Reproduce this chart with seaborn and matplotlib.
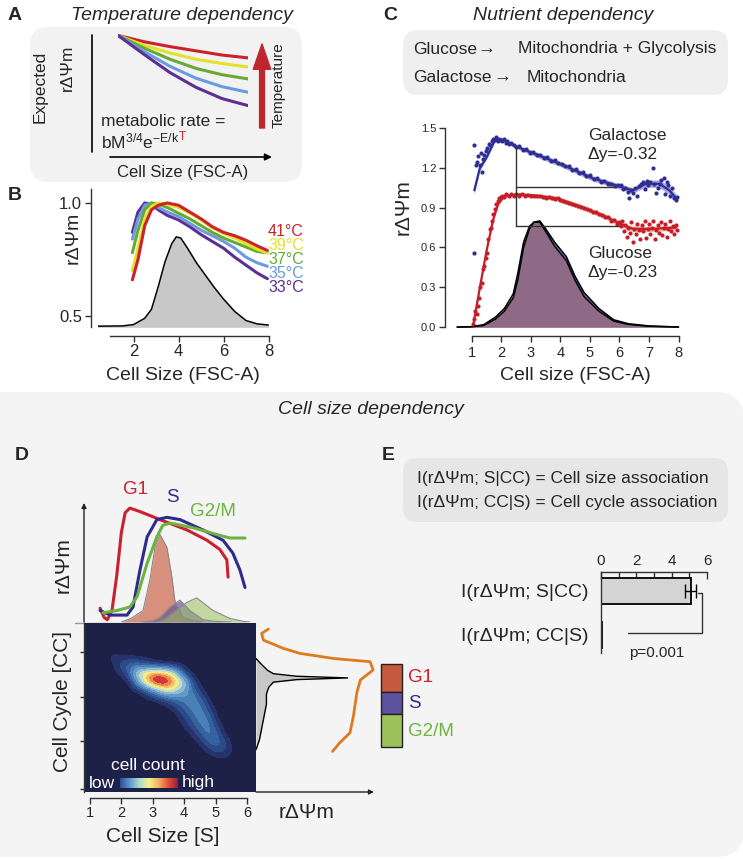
import matplotlib
matplotlib.use("Agg")
import matplotlib.pyplot as plt
from matplotlib.patches import FancyBboxPatch, Rectangle
from matplotlib.colors import ListedColormap, BoundaryNorm, LinearSegmentedColormap
import numpy as np
import seaborn as sns

sns.set_theme(style="white")
plt.rcParams["font.family"] = ["Liberation Sans", "DejaVu Sans"]
plt.rcParams["mathtext.fontset"] = "custom"
plt.rcParams["mathtext.rm"] = "Liberation Sans"
plt.rcParams["mathtext.it"] = "Liberation Sans:italic"

W, H = 743, 859

# ---------------- data ----------------
# A: schematic expected rDeltaPsi vs size, one curve per temperature
a_x = [0, 0.2, 0.4, 0.6, 0.8, 1.0]
a_curves = [
    [1.0, 0.91, 0.84, 0.78, 0.72, 0.68],   # hottest
    [1.0, 0.86, 0.75, 0.66, 0.60, 0.55],
    [1.0, 0.82, 0.66, 0.53, 0.44, 0.38],
    [1.0, 0.77, 0.56, 0.39, 0.27, 0.19],
    [1.0, 0.73, 0.47, 0.26, 0.10, 0.00],   # coldest
]

# B: measured curves
temps = ["41°C", "39°C", "37°C", "35°C", "33°C"]
temp_colors = ["#CC2229", "#E2E22A", "#66AA33", "#6A9BE0", "#5B2F94"]
b_x = [1.95, 2.2, 2.5, 2.8, 3.1, 3.5, 4.0, 4.5, 5.0, 5.5, 6.0, 6.5, 7.0, 7.5, 7.95]
b_41 = [0.66, 0.75, 0.90, 0.97, 0.99, 1.00, 0.99, 0.96, 0.93, 0.895, 0.87, 0.855, 0.835, 0.81, 0.79]
b_39 = [0.70, 0.80, 0.93, 0.985, 1.00, 0.995, 0.98, 0.955, 0.925, 0.89, 0.865, 0.845, 0.82, 0.795, 0.78]
b_37 = [0.78, 0.88, 0.97, 1.00, 0.995, 0.98, 0.955, 0.93, 0.90, 0.87, 0.845, 0.825, 0.805, 0.785, 0.78]
b_35 = [0.84, 0.93, 0.99, 1.00, 0.98, 0.96, 0.94, 0.91, 0.88, 0.855, 0.83, 0.80, 0.76, 0.735, 0.72]
b_33 = [0.87, 0.96, 1.00, 0.995, 0.97, 0.945, 0.925, 0.895, 0.86, 0.83, 0.80, 0.76, 0.725, 0.69, 0.665]
b_hist_x = [0.4, 1.5, 2.0, 2.5, 2.8, 3.1, 3.4, 3.7, 3.9, 4.1, 4.4, 4.8, 5.2, 5.6, 6.0, 6.5, 7.0, 7.5, 8.0]
b_hist_y = [0.455, 0.456, 0.462, 0.49, 0.53, 0.63, 0.74, 0.82, 0.85, 0.845, 0.80, 0.735, 0.68, 0.625,
            0.575, 0.52, 0.48, 0.465, 0.46]

# C: nutrient dependency
gal_x = [1.08, 1.27, 1.50, 1.78, 2.06, 2.51, 3.19, 4.09, 5.10, 6.00, 6.45, 6.90, 7.35, 7.69, 7.92]
gal_y = [1.03, 1.20, 1.28, 1.41, 1.41, 1.36, 1.30, 1.22, 1.12, 1.06, 1.03, 1.08, 1.08, 1.03, 0.97]
gal_ci = [0.03, 0.02, 0.015, 0.015, 0.015, 0.015, 0.02, 0.02, 0.02, 0.02, 0.02, 0.025, 0.03, 0.03, 0.03]
glu_x = [1.04, 1.27, 1.50, 1.72, 1.89, 2.11, 2.62, 3.19, 3.86, 4.65, 5.55, 6.00, 6.45, 7.13, 7.92]
glu_y = [0.01, 0.30, 0.58, 0.81, 0.93, 0.99, 1.00, 0.99, 0.97, 0.91, 0.83, 0.78, 0.74, 0.74, 0.75]
glu_ci = [0.02, 0.02, 0.015, 0.015, 0.015, 0.015, 0.015, 0.015, 0.02, 0.02, 0.02, 0.02, 0.02, 0.02, 0.02]

gal_dot_x = [1.08, 1.08, 1.13, 1.17, 1.22, 1.27, 1.30, 1.34, 1.38, 1.42, 1.47, 1.52, 1.57, 1.62, 1.67,
             1.72, 1.77, 1.82, 1.87, 1.92, 1.97, 2.03, 2.08, 2.14, 2.20, 2.27, 2.34, 2.41, 2.48,
             2.60, 2.72, 2.84, 2.96, 3.08, 3.20, 3.32, 3.44, 3.56, 3.68, 3.80, 3.92, 4.04, 4.16,
             4.28, 4.40, 4.52, 4.64, 4.76, 4.88, 5.00, 5.12, 5.24, 5.36, 5.48, 5.60, 5.72, 5.84,
             5.96, 6.05, 6.12, 6.20, 6.28, 6.33, 6.40, 6.47, 6.52, 6.60, 6.66, 6.72, 6.80, 6.86,
             6.92, 6.98, 7.05, 7.12, 7.18, 7.24, 7.30, 7.36, 7.42, 7.50, 7.55, 7.60, 7.66, 7.72,
             7.78, 7.84, 7.90, 7.95]
gal_dot_y = [0.555, 1.37, 1.22, 1.24, 1.29, 1.22, 1.31, 1.17, 1.27, 1.30, 1.33, 1.35, 1.38, 1.37, 1.40,
             1.42, 1.41, 1.43, 1.40, 1.42, 1.41, 1.40, 1.42, 1.39, 1.40, 1.38, 1.39, 1.37, 1.36,
             1.365, 1.335, 1.345, 1.315, 1.32, 1.295, 1.30, 1.275, 1.28, 1.255, 1.26, 1.235, 1.23,
             1.21, 1.21, 1.185, 1.19, 1.16, 1.165, 1.14, 1.145, 1.115, 1.12, 1.095, 1.10, 1.075,
             1.08, 1.065, 1.07, 1.07, 1.04, 1.05, 1.02, 0.97, 1.03, 1.01, 1.05, 0.99, 1.06, 1.08,
             1.09, 1.04, 1.10, 1.07, 1.09, 1.20, 1.08, 1.01, 1.05, 1.08, 1.11, 1.12, 1.00, 1.09,
             1.07, 0.99, 1.05, 0.97, 0.96, 0.98]
glu_dot_x = [1.05, 1.08, 1.12, 1.16, 1.20, 1.25, 1.29, 1.33, 1.38, 1.42, 1.46, 1.50, 1.55, 1.60, 1.64,
             1.68, 1.72, 1.77, 1.82, 1.87, 1.92, 1.97, 2.03, 2.10, 2.17, 2.25, 2.33, 2.42, 2.50,
             2.60, 2.70, 2.80, 2.90, 3.00, 3.10, 3.20, 3.30, 3.40, 3.50, 3.60, 3.70, 3.80, 3.90,
             4.00, 4.10, 4.20, 4.30, 4.40, 4.50, 4.60, 4.70, 4.80, 4.90, 5.00, 5.10, 5.20, 5.30,
             5.40, 5.50, 5.60, 5.70, 5.80, 5.90, 6.00, 6.05, 6.10, 6.15, 6.20, 6.25, 6.30, 6.35,
             6.40, 6.45, 6.50, 6.55, 6.60, 6.65, 6.70, 6.75, 6.80, 6.85, 6.90, 6.95, 7.00, 7.05,
             7.10, 7.15, 7.20, 7.25, 7.30, 7.35, 7.40, 7.45, 7.50, 7.55, 7.60, 7.65, 7.70, 7.75,
             7.80, 7.85, 7.90, 7.95]
glu_dot_y = [0.02, 0.06, 0.12, 0.10, 0.16, 0.22, 0.30, 0.33, 0.44, 0.46, 0.52, 0.56, 0.66, 0.74, 0.75,
             0.80, 0.85, 0.89, 0.93, 0.95, 0.97, 0.98, 0.99, 0.98, 1.00, 0.99, 1.00, 0.99, 1.00,
             0.99, 1.00, 0.99, 0.995, 0.99, 0.99, 0.985, 0.99, 0.98, 0.975, 0.98, 0.97, 0.965, 0.97,
             0.955, 0.95, 0.94, 0.935, 0.93, 0.92, 0.91, 0.905, 0.895, 0.89, 0.88, 0.87, 0.865, 0.85,
             0.845, 0.83, 0.83, 0.80, 0.81, 0.78, 0.79, 0.76, 0.80, 0.72, 0.77, 0.68, 0.75, 0.71,
             0.79, 0.64, 0.74, 0.70, 0.78, 0.73, 0.66, 0.77, 0.72, 0.80, 0.67, 0.74, 0.78, 0.70,
             0.75, 0.80, 0.66, 0.73, 0.77, 0.71, 0.79, 0.69, 0.75, 0.78, 0.68, 0.74, 0.80, 0.72,
             0.76, 0.70, 0.77, 0.73]

c_hist_x = [0.5, 1.0, 1.4, 1.8, 2.1, 2.4, 2.55, 2.75, 2.95, 3.1, 3.3, 3.5, 3.8, 4.2, 4.5, 4.8, 5.3, 5.8, 6.3, 7.0, 8.0]
glu_hist = [0, 0.003, 0.018, 0.075, 0.14, 0.25, 0.40, 0.64, 0.76, 0.79, 0.79, 0.72, 0.61, 0.50, 0.35,
            0.23, 0.12, 0.045, 0.02, 0.006, 0]
gal_hist = [0, 0.002, 0.012, 0.06, 0.12, 0.22, 0.35, 0.60, 0.74, 0.79, 0.80, 0.74, 0.64, 0.53, 0.38,
            0.26, 0.14, 0.055, 0.025, 0.008, 0]

# D: cell size / cell cycle
phase_names = ["G1", "S", "G2/M"]
phase_line = ["#CC1F2F", "#2E2A8E", "#6CB33F"]
phase_fill = ["#C65A3E", "#5D52A0", "#9CC25C"]
g1_line_x = [1.32, 1.45, 1.55, 1.70, 1.85, 2.00, 2.12, 2.27, 2.59, 3.23, 4.09, 4.73, 5.14, 5.36, 5.40]
g1_line_y = [0.12, 0.04, 0.02, 0.10, 0.40, 0.78, 0.95, 0.99, 0.96, 0.89, 0.80, 0.71, 0.63, 0.54, 0.39]
s_line_x = [1.32, 1.64, 2.18, 2.37, 2.59, 2.82, 3.13, 3.45, 3.87, 4.60, 5.24, 5.55, 5.78, 5.94]
s_line_y = [0.10, 0.06, 0.06, 0.13, 0.45, 0.74, 0.89, 0.91, 0.89, 0.80, 0.71, 0.60, 0.45, 0.30]
g2_line_x = [1.41, 1.86, 2.27, 2.50, 2.82, 3.13, 3.32, 3.55, 4.28, 5.04, 5.46, 5.94]
g2_line_y = [0.08, 0.10, 0.13, 0.22, 0.51, 0.74, 0.84, 0.86, 0.82, 0.76, 0.73, 0.73]
g1_dens_x = [2.0, 2.3, 2.69, 2.91, 3.07, 3.23, 3.45, 3.61, 3.70, 3.96, 4.3, 4.6]
g1_dens_y = [0, 0.03, 0.10, 0.37, 0.65, 0.76, 0.65, 0.39, 0.19, 0.04, 0.01, 0]
s_dens_x = [2.6, 3.0, 3.23, 3.55, 3.87, 4.18, 4.6, 5.0, 5.5]
s_dens_y = [0, 0.01, 0.04, 0.13, 0.19, 0.10, 0.02, 0.005, 0]
g2_dens_x = [3.1, 3.4, 3.64, 4.09, 4.4, 4.92, 5.46, 5.9, 6.1]
g2_dens_y = [0, 0.03, 0.08, 0.17, 0.21, 0.10, 0.03, 0.005, 0]

cc_dens_y = [0.79, 0.76, 0.72, 0.70, 0.685, 0.675, 0.665, 0.65, 0.62, 0.58, 0.52, 0.45, 0.38, 0.31, 0.27, 0.25]
cc_dens_w = [0.0, 0.04, 0.10, 0.15, 0.35, 0.79, 0.35, 0.15, 0.11, 0.09, 0.09, 0.07, 0.05, 0.03, 0.01, 0.0]
cc_line_y = [0.964, 0.939, 0.899, 0.85, 0.82, 0.79, 0.771, 0.722, 0.663, 0.59, 0.45, 0.35, 0.29, 0.24]
cc_line_w = [0.107, 0.049, 0.063, 0.235, 0.38, 0.67, 0.983, 1.01, 0.90, 0.87, 0.84, 0.81, 0.72, 0.66]

# 2D cell count read on a grid (rows top to bottom)
hm_x = [1.5, 1.75, 2.0, 2.25, 2.5, 2.75, 3.0, 3.25, 3.5, 3.75, 4.0, 4.25, 4.5, 4.75, 5.0, 5.25, 5.5, 5.75]
hm_y = [0.85, 0.80, 0.75, 0.70, 0.65, 0.60, 0.55, 0.50, 0.45, 0.40, 0.35, 0.30, 0.25, 0.20, 0.15]
hm_count = [
    [0, 0, 0, 0, 0, 0, 0, 0, 0, 0, 0, 0, 0, 0, 0, 0, 0, 0],
    [0.005, 0.03, 0.01, 0, 0, 0, 0, 0, 0, 0, 0, 0, 0, 0, 0, 0, 0, 0],
    [0, 0.01, 0.08, 0.15, 0.14, 0.08, 0.03, 0.01, 0, 0, 0, 0, 0, 0, 0, 0, 0, 0],
    [0, 0, 0.02, 0.12, 0.48, 0.66, 0.78, 0.76, 0.64, 0.40, 0.05, 0, 0, 0, 0, 0, 0, 0],
    [0, 0, 0, 0, 0.25, 0.60, 0.88, 0.97, 0.88, 0.66, 0.42, 0.05, 0, 0, 0, 0, 0, 0],
    [0, 0, 0, 0, 0, 0.06, 0.22, 0.42, 0.52, 0.45, 0.30, 0.16, 0.02, 0, 0, 0, 0, 0],
    [0, 0, 0, 0, 0, 0, 0, 0.03, 0.10, 0.16, 0.20, 0.22, 0.12, 0, 0, 0, 0, 0],
    [0, 0, 0, 0, 0, 0, 0, 0, 0, 0.05, 0.12, 0.20, 0.20, 0.05, 0, 0, 0, 0],
    [0, 0, 0, 0, 0, 0, 0, 0, 0, 0, 0.06, 0.14, 0.22, 0.14, 0, 0, 0, 0],
    [0, 0, 0, 0, 0, 0, 0, 0, 0, 0, 0.02, 0.08, 0.18, 0.20, 0.04, 0, 0, 0],
    [0, 0, 0, 0, 0, 0, 0, 0, 0, 0, 0, 0.02, 0.10, 0.20, 0.12, 0, 0, 0],
    [0, 0, 0, 0, 0, 0, 0, 0, 0, 0, 0, 0, 0.02, 0.12, 0.16, 0.06, 0, 0],
    [0, 0, 0, 0, 0, 0, 0, 0, 0, 0, 0, 0, 0, 0.02, 0.08, 0.07, 0.01, 0],
    [0, 0, 0, 0, 0, 0, 0, 0, 0, 0, 0, 0, 0, 0, 0, 0.01, 0, 0],
    [0, 0, 0, 0, 0, 0, 0, 0, 0, 0, 0, 0, 0, 0, 0, 0, 0, 0],
]
hm_levels = [0.015, 0.05, 0.10, 0.16, 0.23, 0.32, 0.42, 0.52, 0.62, 0.70, 0.78, 1.2]
hm_colors = ["#26346E", "#2C4A88", "#3563A1", "#4A7FB8", "#6499C8", "#8DBAD6",
             "#C2DDC0", "#F3EC8E", "#F6BE6A", "#EC8748", "#D0383A"]

# E: conditional mutual information
mi_labels = ["I(rΔΨm; S|CC)", "I(rΔΨm; CC|S)"]
mi_values = [5.08, 0.08]
mi_err_lo = [0.33, 0.0]
mi_err_hi = [0.29, 0.0]

# ---------------- figure ----------------
fig = plt.figure(figsize=(W / 100, H / 100), dpi=100)
fig.patch.set_facecolor("white")


def add_ax(x0, y0, x1, y1):
    a = fig.add_axes([x0 / W, 1 - y1 / H, (x1 - x0) / W, (y1 - y0) / H])
    a.set_facecolor("none")
    return a


def overlay():
    a = fig.add_axes([0, 0, 1, 1])
    a.set_facecolor("none")
    a.set_xlim(0, W)
    a.set_ylim(H, 0)
    a.axis("off")
    return a


bg = overlay()


def txt(x, y, s, size=12, on=None, **kw):
    kw.setdefault("ha", "left")
    kw.setdefault("va", "center")
    return (on or bg).text(x, y, s, fontsize=size, **kw)


def box(x0, y0, x1, y1, fc, r):
    bg.add_patch(FancyBboxPatch((x0, y0), x1 - x0, y1 - y0,
                                boxstyle=f"round,pad=0,rounding_size={r}", fc=fc, ec="none", zorder=0))


box(30, 27, 302, 182, "#F2F2F2", 18)
box(403, 30, 728, 95, "#EFEFEF", 15)
box(-40, 392, 744, 857, "#F4F4F4", 28)
box(403, 458, 728, 522, "#E6E6E6", 14)

# panel letters and titles
for lab, x, y in [("A", 8, 15), ("B", 8, 195), ("C", 383, 15), ("D", 15, 455), ("E", 382, 455)]:
    txt(x, y, lab, 14, fontweight="bold")
txt(182, 15, "Temperature dependency", 14, ha="center", style="italic")
txt(563, 15, "Nutrient dependency", 14, ha="center", style="italic")
txt(371, 410, "Cell size dependency", 14, ha="center", style="italic")

# ---- A ----
txt(40, 87, "Expected", 12.5, ha="center", rotation=90)
txt(67, 68, "rΔΨm", 12.5, ha="center", rotation=90)
bg.plot([92, 92], [35, 152], color="black", lw=1.2)
bg.annotate("", xy=(272, 157), xytext=(110, 157),
            arrowprops=dict(arrowstyle="-|>", color="black", lw=1.2, mutation_scale=10, shrinkA=0, shrinkB=0))
txt(183, 172, "Cell Size (FSC-A)", 12, ha="center")
txt(101, 121, "metabolic rate =", 12.5)
t_eq = txt(101, 141, r"bM$^{3/4}$e$^{\mathrm{-E/k}}$", 12.5)
bg.annotate("T", xy=(1, 1), xycoords=t_eq, ha="left", va="top", fontsize=8.5, color="#CC2229")
bg.annotate("", xy=(262, 44), xytext=(262, 128),
            arrowprops=dict(arrowstyle="simple,head_width=0.9,head_length=1.3,tail_width=0.25",
                            color="#C0272D", mutation_scale=14, shrinkA=0, shrinkB=0))
txt(279, 85, "Temperature", 11, ha="center", rotation=90)

ax_a = add_ax(118, 34, 248, 107)
for vals, c in zip(a_curves, temp_colors):
    sns.lineplot(x=a_x, y=vals, ax=ax_a, color=c, lw=2.2, estimator=None, sort=False, legend=False)
ax_a.set_xlim(0, 1)
ax_a.set_ylim(-0.02, 1.02)
ax_a.axis("off")

# ---- B ----
ax_b = add_ax(97.5, 189.4, 268.5, 327.3)
ax_b.fill_between(b_hist_x, 0.45, b_hist_y, color="#C8C8C8", lw=0)
sns.lineplot(x=b_hist_x, y=b_hist_y, ax=ax_b, color="black", lw=1.1, estimator=None, sort=False, legend=False)
b_series = [b_41, b_39, b_37, b_35, b_33]
for vals, c in list(zip(b_series, temp_colors))[::-1]:
    sns.lineplot(x=b_x, y=vals, ax=ax_b, color=c, lw=2.2, estimator=None, sort=False, legend=False)
ax_b.set_xlim(0.4, 8.0)
ax_b.set_ylim(0.45, 1.06)
ax_b.set_xticks([2, 4, 6, 8])
ax_b.set_yticks([0.5, 1.0])
ax_b.set_yticklabels(["0.5", "1.0"])
for s in ["top", "right"]:
    ax_b.spines[s].set_visible(False)
ax_b.spines["left"].set_position(("outward", 5))
ax_b.spines["bottom"].set_position(("outward", 6))
ax_b.spines["bottom"].set_bounds(0.95, 8)
for s in ["left", "bottom"]:
    ax_b.spines[s].set_color("#333333")
    ax_b.spines[s].set_linewidth(1.0)
ax_b.tick_params(left=True, bottom=True, length=4, width=1, color="#333333", labelsize=12, pad=2)
ax_b.set_xlabel("")
ax_b.set_ylabel("")
for name, c, y in zip(temps, temp_colors, [232, 246, 260, 274, 288]):
    txt(268, y, name, 11.5, color=c)
txt(73, 238, "rΔΨm", 14, ha="center", rotation=90)
txt(183, 376, "Cell Size (FSC-A)", 14, ha="center")

# ---- C ----
txt(413, 49, "Glucose", 12.5)
txt(486, 49, "→", 13, ha="center", fontweight="bold")
txt(518, 49, "Mitochondria + Glycolysis", 12.5)
txt(413, 77, "Galactose", 12.5)
txt(502, 77, "→", 13, ha="center", fontweight="bold")
txt(527, 77, "Mitochondria", 12.5)

ax_c = add_ax(455.7, 128, 680, 327.7)
glu_h = np.array(glu_hist)
gal_h = np.array(gal_hist)
ax_c.fill_between(c_hist_x, 0, glu_h, color="#E7A06C", lw=0)
ax_c.fill_between(c_hist_x, 0, gal_h, color="#7E7CC0", lw=0)
ax_c.fill_between(c_hist_x, 0, np.minimum(glu_h, gal_h), color="#8E6A86", lw=0)
sns.lineplot(x=c_hist_x, y=glu_hist, ax=ax_c, color="black", lw=1.1, estimator=None, sort=False, legend=False)
sns.lineplot(x=c_hist_x, y=gal_hist, ax=ax_c, color="black", lw=1.1, estimator=None, sort=False, legend=False)

ax_c.fill_between(gal_x, np.array(gal_y) - np.array(gal_ci), np.array(gal_y) + np.array(gal_ci),
                  color="#9E9ED8", lw=0, alpha=0.9)
ax_c.fill_between(glu_x, np.array(glu_y) - np.array(glu_ci), np.array(glu_y) + np.array(glu_ci),
                  color="#EDB48A", lw=0, alpha=0.9)
sns.scatterplot(x=gal_dot_x, y=gal_dot_y, ax=ax_c, color="#2E2E96", s=9, linewidth=0, legend=False)
sns.scatterplot(x=glu_dot_x, y=glu_dot_y, ax=ax_c, color="#C41E2A", s=9, linewidth=0, legend=False)
sns.lineplot(x=gal_x, y=gal_y, ax=ax_c, color="#2E2E96", lw=1.6, estimator=None, sort=False, legend=False)
sns.lineplot(x=glu_x, y=glu_y, ax=ax_c, color="#C41E2A", lw=1.6, estimator=None, sort=False, legend=False)

# delta-y brackets
ax_c.plot([2.49, 2.49], [1.35, 0.763], color="#333333", lw=1)
ax_c.plot([2.49, 5.89], [1.057, 1.057], color="#333333", lw=1)
ax_c.plot([2.49, 6.0], [0.763, 0.763], color="#333333", lw=1)

ax_c.set_xlim(0.45, 8.05)
ax_c.set_ylim(-0.005, 1.5)
ax_c.set_xticks(range(1, 9))
ax_c.set_yticks([0.0, 0.3, 0.6, 0.9, 1.2, 1.5])
ax_c.set_yticklabels(["0.0", "0.3", "0.6", "0.9", "1.2", "1.5"])
for s in ["top", "right"]:
    ax_c.spines[s].set_visible(False)
ax_c.spines["left"].set_position(("outward", 8))
ax_c.spines["bottom"].set_position(("outward", 6))
ax_c.spines["bottom"].set_bounds(1, 8)
ax_c.spines["left"].set_bounds(0, 1.5)
for s in ["left", "bottom"]:
    ax_c.spines[s].set_color("#333333")
    ax_c.spines[s].set_linewidth(1.0)
ax_c.tick_params(axis="x", bottom=True, length=4, width=1, color="#333333", labelsize=10.5, pad=3)
ax_c.tick_params(axis="y", left=True, length=4, width=1, color="#333333", labelsize=8, pad=2)
ax_c.set_xlabel("")
ax_c.set_ylabel("")
txt(588, 135, "Galactose", 12.5)
txt(588, 155, "Δy=-0.32", 12.5)
txt(588, 253, "Glucose", 12.5)
txt(588, 273, "Δy=-0.23", 12.5)
txt(403, 207, "rΔΨm", 15, ha="center", rotation=90)
txt(575, 376, "Cell size (FSC-A)", 14, ha="center")

# ---- D ----
# heatmap
ax_h = add_ax(85, 623, 256, 792)
ax_h.set_facecolor("#1E2147")
cmap_h = ListedColormap(hm_colors)
cmap_h.set_under("#1E2147")
cmap_h.set_over("#A51D3A")
norm_h = BoundaryNorm(hm_levels, cmap_h.N)
dx = (hm_x[1] - hm_x[0]) / 2
dy = (hm_y[0] - hm_y[1]) / 2
ax_h.imshow(np.array(hm_count), extent=(hm_x[0] - dx, hm_x[-1] + dx, hm_y[-1] - dy, hm_y[0] + dy),
            cmap=cmap_h, norm=norm_h, interpolation="bicubic", aspect="auto", origin="upper")
ax_h.set_xlim(0.84, 6.29)
ax_h.set_ylim(0, 1)
ax_h.set_xticks(range(1, 7))
ax_h.set_yticks([0.02, 0.3, 0.56, 0.83])
ax_h.set_yticklabels([])
for s in ["top", "right"]:
    ax_h.spines[s].set_visible(False)
ax_h.spines["bottom"].set_position(("outward", 4))
ax_h.spines["bottom"].set_bounds(1, 6)
ax_h.spines["left"].set_position(("outward", 1))
for s in ["left", "bottom"]:
    ax_h.spines[s].set_color("#333333")
    ax_h.spines[s].set_linewidth(1.0)
ax_h.tick_params(axis="x", bottom=True, length=4, width=1, color="#333333", labelsize=10.5, pad=2)
ax_h.tick_params(axis="y", left=True, length=3, width=1, color="#333333")

# gradient key
ax_k = add_ax(120, 778, 177, 788)
cmap_k = LinearSegmentedColormap.from_list(
    "cells", ["#2F4C9A", "#5A9AD0", "#A8DCD0", "#F5F08A", "#F5B060", "#E0503A", "#9E1A3A"])
ax_k.imshow(np.linspace(0, 1, 200)[None, :], cmap=cmap_k, aspect="auto")
ax_k.axis("off")

# top marginal
ax_t = add_ax(85, 505, 256, 622)
dens = [(g1_dens_x, g1_dens_y, 0.65), (s_dens_x, s_dens_y, 0.65), (g2_dens_x, g2_dens_y, 0.55)]
for (dxs, dys, al), fc in zip(dens, phase_fill):
    ax_t.fill_between(dxs, 0, dys, color=fc, alpha=al, lw=0)
    sns.lineplot(x=dxs, y=dys, ax=ax_t, color="#888888", lw=0.8, estimator=None, sort=False, legend=False)
lines = [(g1_line_x, g1_line_y), (s_line_x, s_line_y), (g2_line_x, g2_line_y)]
for (lx, ly), c in zip(lines, phase_line):
    sns.lineplot(x=lx, y=ly, ax=ax_t, color=c, lw=2.2, estimator=None, sort=False, legend=False)
ax_t.set_xlim(0.84, 6.29)
ax_t.set_ylim(0, 1.017)
ax_t.axis("off")
bg.plot([75, 250], [622.5, 622.5], color="#999999", lw=1)
bg.annotate("", xy=(84, 503), xytext=(84, 622),
            arrowprops=dict(arrowstyle="-|>", color="#222222", lw=1, mutation_scale=7, shrinkA=0, shrinkB=0))
for name, c, x, y in zip(phase_names, phase_line, [123, 166, 190], [490, 498, 511]):
    txt(x, y, name, 13.5, color=c)
txt(63, 565, "rΔΨm", 15, ha="center", rotation=90)

# right marginal
ax_r = add_ax(256, 623, 380, 792)
ax_r.fill_betweenx(cc_dens_y, 0, cc_dens_w, color="#C8C8C8", lw=0)
sns.lineplot(x=cc_dens_w, y=cc_dens_y, ax=ax_r, color="black", lw=1, estimator=None, sort=False, legend=False)
sns.lineplot(x=cc_line_w, y=cc_line_y, ax=ax_r, color="#E07A1F", lw=2, estimator=None, sort=False, legend=False)
ax_r.set_xlim(0, 124 / 116)
ax_r.set_ylim(0, 1)
ax_r.axis("off")
bg.annotate("", xy=(374, 792), xytext=(256, 792),
            arrowprops=dict(arrowstyle="-|>", color="#222222", lw=1, mutation_scale=7, shrinkA=0, shrinkB=0))

txt(63, 702, "Cell Cycle [CC]", 15, ha="center", rotation=90)
txt(163, 837, "Cell Size [S]", 15, ha="center")
txt(307, 813, "rΔΨm", 15, ha="center")

# phase key
for (y0, y1), fc in zip([(664, 692), (692, 714), (714, 747)], phase_fill):
    bg.add_patch(Rectangle((381, y0), 21, y1 - y0, fc=fc, ec="#222222", lw=1))
for name, c, y in zip(phase_names, phase_line, [677, 703, 731]):
    txt(408, y, name, 13.5, color=c)

# ---- E ----
txt(417, 478, "I(rΔΨm; S|CC) = Cell size association", 12.5)
txt(417, 503, "I(rΔΨm; CC|S) = Cell cycle association", 12.5)

ax_e = add_ax(601, 572, 707, 653)
sns.barplot(x=mi_values, y=mi_labels, orient="h", ax=ax_e, color="#D4D4D4", saturation=1,
            edgecolor="black", linewidth=1.3, width=0.61)
ax_e.errorbar(mi_values[0], 0, xerr=[[mi_err_lo[0]], [mi_err_hi[0]]], fmt="none",
              ecolor="black", elinewidth=1, capsize=5, capthick=1)
ax_e.plot([5.48, 5.71, 5.71, 1.53], [0.05, 0.05, 0.95, 0.95], color="#333333", lw=1)
ax_e.text(3.16, 1.41, "p=0.001", fontsize=11, ha="center", va="center")
ax_e.set_xlim(0, 6)
ax_e.set_ylim(1.41, -0.43)
ax_e.xaxis.tick_top()
ax_e.set_xticks([0, 2, 4, 6])
ax_e.set_xticks([1, 3, 5], minor=True)
ax_e.tick_params(axis="x", which="both", top=True, direction="in", length=5, width=1,
                 color="#333333", labelsize=11, pad=3)
ax_e.tick_params(axis="y", length=0, labelsize=14, pad=9)
for s in ["bottom", "right"]:
    ax_e.spines[s].set_visible(False)
for s in ["top", "left"]:
    ax_e.spines[s].set_color("#333333")
    ax_e.spines[s].set_linewidth(1.0)
ax_e.set_xlabel("")
ax_e.set_ylabel("")

# texts on top of the heatmap
fg = overlay()
txt(148, 765, "cell count", 12.5, on=fg, ha="center", color="white")
txt(102, 783, "low", 12.5, on=fg, ha="center", color="white")
txt(198, 783, "high", 12.5, on=fg, ha="center", color="white")

fig.savefig("out.png", dpi=100, facecolor="white")
